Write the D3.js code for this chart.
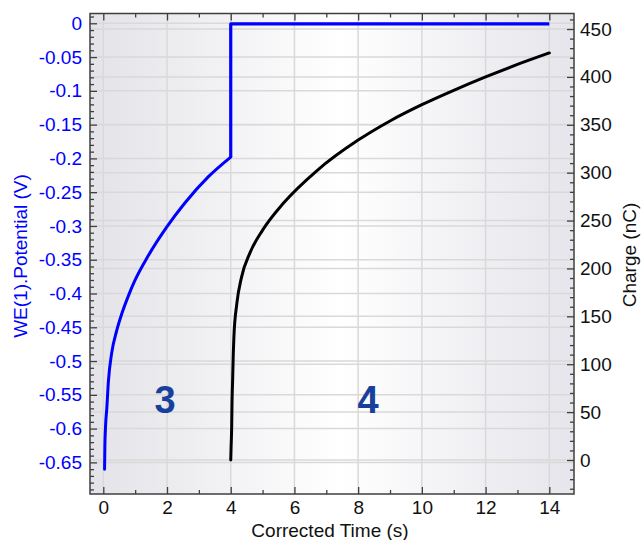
<!DOCTYPE html>
<html>
<head>
<meta charset="utf-8">
<script src="https://cdn.jsdelivr.net/npm/d3@7"></script>
<style>
  body { margin: 0; background: #fff; }
  svg { display: block; font-family: "Liberation Sans", Arial, sans-serif; }
</style>
</head>
<body>
<svg id="chart"></svg>
<script>
// CHART DATA

// potential, rising part before the step at t = 4 s
const potRiseTime = [0.04, 0.05, 0.07, 0.11, 0.16, 0.26, 0.42, 0.58, 0.8, 1.0, 1.4, 2.0, 2.56, 3.3, 4.0];
const potRiseValue = [-0.660, -0.625, -0.597, -0.570, -0.530, -0.489, -0.455, -0.430, -0.402, -0.380, -0.345, -0.301, -0.266, -0.227, -0.198];

// potential, step up and hold
const potHoldTime = [4.0, 4.0, 14.0];
const potHoldValue = [-0.198, -0.001, -0.001];

// charge after the step
const chargeTime = [4.0, 4.01, 4.03, 4.04, 4.06, 4.08, 4.10, 4.19, 4.34, 4.6, 5.0, 5.65, 6.7, 8.0, 9.0, 10.0, 11.0, 12.0, 13.0, 14.0];
const chargeValue = [0, 12, 35, 59, 84, 111, 129, 163, 191, 216, 240, 268, 302, 334, 354, 371, 386, 400, 413, 425];

// tick labels
const timeTicks = [0, 2, 4, 6, 8, 10, 12, 14];
const timeMinor = [1, 3, 5, 7, 9, 11, 13];
const potTicks = [0, -0.05, -0.1, -0.15, -0.2, -0.25, -0.3, -0.35, -0.4, -0.45, -0.5, -0.55, -0.6, -0.65];
const potMinor = [0.01, -0.01, -0.02, -0.03, -0.04, -0.06, -0.07, -0.08, -0.09, -0.11, -0.12, -0.13, -0.14,
    -0.16, -0.17, -0.18, -0.19, -0.21, -0.22, -0.23, -0.24, -0.26, -0.27, -0.28, -0.29,
    -0.31, -0.32, -0.33, -0.34, -0.36, -0.37, -0.38, -0.39, -0.41, -0.42, -0.43, -0.44,
    -0.46, -0.47, -0.48, -0.49, -0.51, -0.52, -0.53, -0.54, -0.56, -0.57, -0.58, -0.59,
    -0.61, -0.62, -0.63, -0.64, -0.66, -0.67, -0.68, -0.69];
const chargeTicks = [0, 50, 100, 150, 200, 250, 300, 350, 400, 450];
const chargeMinor = [-30, -20, -10, 10, 20, 30, 40, 60, 70, 80, 90, 110, 120, 130, 140, 160, 170, 180, 190,
    210, 220, 230, 240, 260, 270, 280, 290, 310, 320, 330, 340, 360, 370, 380, 390,
    410, 420, 430, 440, 460];

// region labels
const regionLabel = ['3', '4'];
const regionTime = [1.94, 8.31];
const regionPot = [-0.577, -0.577];

// LAYOUT

const width = 641;
const height = 540;
const plotLeft = 90, plotRight = 574, plotTop = 13.5, plotBottom = 494;
const axisColor = '#3f3f3f';
const gridColor = '#d9d9d9';
const fontSize = 19;

const x = d3.scaleLinear().domain([-0.4175, 14.775]).range([plotLeft, plotRight]);
const yPot = d3.scaleLinear().domain([-0.6968, 0.0145]).range([plotBottom, plotTop]);
const yCharge = d3.scaleLinear().domain([-35.5, 466.2]).range([plotBottom, plotTop]);

const svg = d3.select('#chart')
    .attr('width', width)
    .attr('height', height);

// background gradient, grey at the sides and white in the middle
const grad = svg.append('defs').append('linearGradient')
    .attr('id', 'plotBkg')
    .attr('x1', '0%').attr('x2', '100%')
    .attr('y1', '0%').attr('y2', '0%');
grad.append('stop').attr('offset', '0%').attr('stop-color', '#e3e3e8');
grad.append('stop').attr('offset', '52%').attr('stop-color', '#ffffff');
grad.append('stop').attr('offset', '100%').attr('stop-color', '#e5e5eb');

svg.append('rect')
    .attr('x', plotLeft).attr('y', plotTop)
    .attr('width', plotRight - plotLeft).attr('height', plotBottom - plotTop)
    .attr('fill', 'url(#plotBkg)');

// GRID

const grid = svg.append('g').attr('stroke', gridColor).attr('stroke-width', 1.5);

grid.selectAll('.vgrid').data(timeTicks).join('line')
    .attr('x1', d => x(d)).attr('x2', d => x(d))
    .attr('y1', plotTop).attr('y2', plotBottom);

grid.selectAll('.pgrid').data(potTicks).join('line')
    .attr('x1', plotLeft).attr('x2', plotRight)
    .attr('y1', d => yPot(d)).attr('y2', d => yPot(d));

grid.selectAll('.cgrid').data(chargeTicks).join('line')
    .attr('x1', plotLeft).attr('x2', plotRight)
    .attr('y1', d => yCharge(d)).attr('y2', d => yCharge(d));

// CURVES

const potRise = potRiseTime.map((t, i) => [t, potRiseValue[i]]);
const potHold = potHoldTime.map((t, i) => [t, potHoldValue[i]]);
const charge = chargeTime.map((t, i) => [t, chargeValue[i]]);

const potLine = d3.line()
    .x(d => x(d[0]))
    .y(d => yPot(d[1]))
    .curve(d3.curveMonotoneX);

const stepLine = d3.line()
    .x(d => x(d[0]))
    .y(d => yPot(d[1]));

const chargeLine = d3.line()
    .x(d => x(d[0]))
    .y(d => yCharge(d[1]))
    .curve(d3.curveMonotoneX);

svg.append('path')
    .attr('d', chargeLine(charge))
    .attr('fill', 'none')
    .attr('stroke', '#000')
    .attr('stroke-width', 3)
    .attr('stroke-linecap', 'round');

svg.append('path')
    .attr('d', potLine(potRise))
    .attr('fill', 'none')
    .attr('stroke', '#0000ff')
    .attr('stroke-width', 3)
    .attr('stroke-linecap', 'round');

svg.append('path')
    .attr('d', stepLine(potHold))
    .attr('fill', 'none')
    .attr('stroke', '#0000ff')
    .attr('stroke-width', 3.2)
    .attr('stroke-linejoin', 'round');

// region numbers
svg.selectAll('.region').data(regionLabel).join('text')
    .attr('x', (d, i) => x(regionTime[i]))
    .attr('y', (d, i) => yPot(regionPot[i]))
    .attr('text-anchor', 'middle')
    .attr('font-size', 38)
    .attr('font-weight', 'bold')
    .attr('fill', '#17409c')
    .text(d => d);

// AXES

function styleAxis(g, color) {
    g.select('.domain').remove();
    g.selectAll('.tick line').attr('stroke', axisColor).attr('stroke-width', 1.3);
    g.selectAll('.tick text').attr('fill', color).attr('font-size', fontSize)
        .attr('font-family', '"Liberation Sans", Arial, sans-serif');
}

// bottom
svg.append('g').attr('transform', `translate(0,${plotBottom})`)
    .call(d3.axisBottom(x).tickValues(timeTicks).tickSize(-7).tickPadding(7).tickFormat(d => String(d)))
    .call(g => styleAxis(g, '#111'));
svg.append('g').attr('transform', `translate(0,${plotBottom})`)
    .call(d3.axisBottom(x).tickValues(timeMinor).tickSize(-4).tickFormat(''))
    .call(g => styleAxis(g, '#111'));

// top (ticks only)
svg.append('g').attr('transform', `translate(0,${plotTop})`)
    .call(d3.axisTop(x).tickValues(timeTicks).tickSize(-7).tickFormat(''))
    .call(g => styleAxis(g, '#111'));
svg.append('g').attr('transform', `translate(0,${plotTop})`)
    .call(d3.axisTop(x).tickValues(timeMinor).tickSize(-4).tickFormat(''))
    .call(g => styleAxis(g, '#111'));

// left, potential
svg.append('g').attr('transform', `translate(${plotLeft},0)`)
    .call(d3.axisLeft(yPot).tickValues(potTicks).tickSize(-7).tickPadding(8).tickFormat(d => String(d)))
    .call(g => styleAxis(g, '#0000ff'));
svg.append('g').attr('transform', `translate(${plotLeft},0)`)
    .call(d3.axisLeft(yPot).tickValues(potMinor).tickSize(-4).tickFormat(''))
    .call(g => styleAxis(g, '#0000ff'));

// right, charge
svg.append('g').attr('transform', `translate(${plotRight},0)`)
    .call(d3.axisRight(yCharge).tickValues(chargeTicks).tickSize(-7).tickPadding(6).tickFormat(d => String(d)))
    .call(g => styleAxis(g, '#111'));
svg.append('g').attr('transform', `translate(${plotRight},0)`)
    .call(d3.axisRight(yCharge).tickValues(chargeMinor).tickSize(-4).tickFormat(''))
    .call(g => styleAxis(g, '#111'));

// frame
svg.append('rect')
    .attr('x', plotLeft).attr('y', plotTop)
    .attr('width', plotRight - plotLeft).attr('height', plotBottom - plotTop)
    .attr('fill', 'none')
    .attr('stroke', axisColor)
    .attr('stroke-width', 1.5);

// AXIS TITLES

svg.append('text')
    .attr('transform', `translate(27,256) rotate(-90)`)
    .attr('text-anchor', 'middle')
    .attr('font-size', fontSize)
    .attr('fill', '#0000ff')
    .text('WE(1).Potential (V)');

svg.append('text')
    .attr('transform', `translate(636,255) rotate(-90)`)
    .attr('text-anchor', 'middle')
    .attr('font-size', fontSize)
    .attr('fill', '#111')
    .text('Charge (nC)');

svg.append('text')
    .attr('x', 330)
    .attr('y', 536.5)
    .attr('text-anchor', 'middle')
    .attr('font-size', fontSize)
    .attr('fill', '#111')
    .text('Corrected Time (s)');
</script>
</body>
</html>
